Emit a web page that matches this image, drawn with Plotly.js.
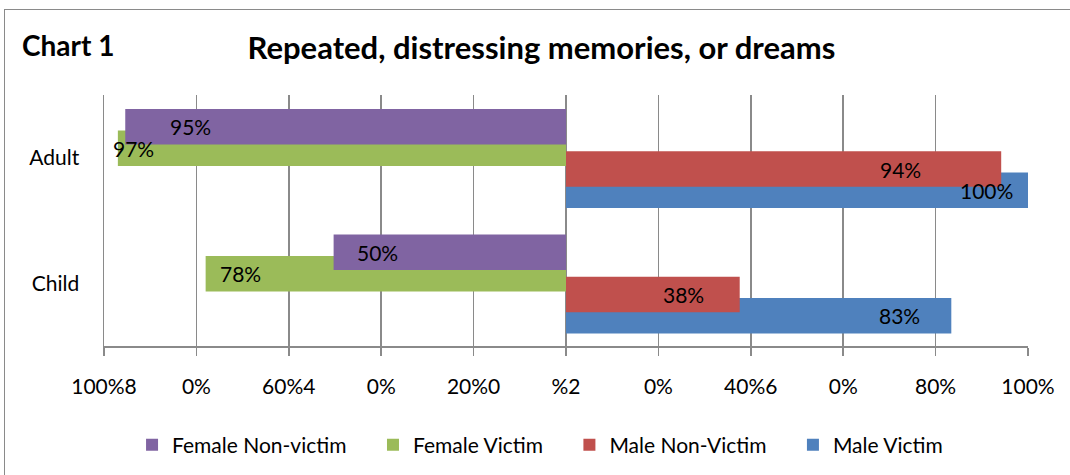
<!DOCTYPE html>
<html>
<head>
<meta charset="utf-8">
<script src="https://cdn.plot.ly/plotly-3.0.1.min.js"></script>
<style>
html, body { margin: 0; padding: 0; background: #ffffff; overflow: hidden; }
#chart { width: 1070px; height: 475px; }
#frame { position: absolute; left: 4px; top: 9px; width: 1200px; height: 600px; border: 1.5px solid #8a8a8a; pointer-events: none; }
</style>
</head>
<body>
<div id="chart"></div>
<div id="frame"></div>
<script>
// ---- data ----
const categories = ['Adult', 'Child'];
const femaleNonVictim = [95.4, 50.3];
const femaleVictim = [97, 78];
const maleNonVictim = [94.2, 37.6];
const maleVictim = [100, 83.4];
const xTickValues = [-100, -80, -60, -40, -20, 0, 20, 40, 60, 80, 100];
const xTickLabels = ['100%8', '0%', '60%4', '0%', '20%0', '%2', '0%', '40%6', '0%', '80%', '100%'];
const seriesNames = ['Female Non-victim', 'Female Victim', 'Male Non-Victim', 'Male Victim'];

// ---- style ----
const FONT = 'Lato, "Open Sans", sans-serif';
const GRID = '#8a8a8a';
const barWidth = 0.283;
const NB = '\u00a0';
const pad = NB.repeat(4);
const series = [
  { name: seriesNames[0], values: femaleNonVictim, sign: -1, color: '#8064A2', offset: 0.105, rank: 1, draw: 2, inset: [65, 44] },
  { name: seriesNames[1], values: femaleVictim, sign: -1, color: '#9BBB59', offset: -0.065, rank: 2, draw: 1, inset: [16, 35] },
  { name: seriesNames[2], values: maleNonVictim, sign: 1, color: '#C0504D', offset: -0.232, rank: 3, draw: 4, inset: [101, 56] },
  { name: seriesNames[3], values: maleVictim, sign: 1, color: '#4F81BD', offset: -0.400, rank: 4, draw: 3, inset: [42, 52] }
];
const categoryOrder = categories.slice().reverse();

const traces = series.slice().sort((a, b) => a.draw - b.draw).map(s => ({
  type: 'bar',
  orientation: 'h',
  name: s.name + pad,
  y: categories,
  x: s.values.map(v => s.sign * v),
  width: barWidth,
  offset: s.offset,
  marker: { color: s.color, line: { width: 0 } },
  legendrank: s.rank,
  hoverinfo: 'skip'
}));

const annotations = [];
series.forEach(s => {
  s.values.forEach((v, i) => {
    annotations.push({
      xref: 'x', yref: 'y',
      x: s.sign * v,
      y: categoryOrder.indexOf(categories[i]) + s.offset + barWidth / 2,
      xshift: -s.sign * s.inset[i],
      text: Math.round(v) + '%',
      showarrow: false,
      xanchor: 'center', yanchor: 'middle',
      font: { family: FONT, size: 21, color: '#000000' }
    });
  });
});
annotations.push({
  xref: 'paper', yref: 'paper',
  x: -0.0909, y: 1.199,
  xanchor: 'left', yanchor: 'middle',
  text: '<b>Chart 1</b>',
  showarrow: false,
  font: { family: FONT, size: 28, color: '#000000' }
});

const layout = {
  width: 1070, height: 475,
  paper_bgcolor: '#ffffff', plot_bgcolor: '#ffffff',
  margin: { l: 104, r: 42, t: 95, b: 129 },
  barmode: 'overlay',
  title: {
    text: '<b>Repeated, distressing memories, or dreams</b>',
    font: { family: FONT, size: 31, color: '#000000' },
    xref: 'container', x: 0.506, xanchor: 'center',
    yref: 'container', y: 0.899, yanchor: 'middle'
  },
  showlegend: true,
  legend: {
    orientation: 'h',
    xref: 'container', x: 0.515, xanchor: 'center',
    yref: 'container', y: 0.063, yanchor: 'middle',
    font: { family: FONT, size: 21, color: '#000000' },
    traceorder: 'normal'
  },
  xaxis: {
    range: [-100, 100],
    tickmode: 'array', tickvals: xTickValues, ticktext: xTickLabels,
    showgrid: true, gridcolor: GRID, gridwidth: 1.5,
    zeroline: false,
    showline: true, linecolor: GRID, linewidth: 1.5,
    ticks: 'outside', ticklen: 8, tickcolor: GRID, tickwidth: 1.5,
    ticklabelstandoff: 13,
    tickfont: { family: FONT, size: 21, color: '#000000' },
    fixedrange: true
  },
  yaxis: {
    type: 'category', categoryorder: 'array', categoryarray: categoryOrder,
    range: [-0.5, 1.5],
    showgrid: false, zeroline: false,
    showline: true, linecolor: GRID, linewidth: 1.5,
    ticks: '', ticklabelstandoff: 19,
    tickfont: { family: FONT, size: 21, color: '#000000' },
    fixedrange: true
  },
  yaxis2: {
    overlaying: 'y', anchor: 'free', position: 0.5, side: 'left',
    range: [-0.5, 1.5],
    tickmode: 'array', tickvals: [-0.5, 0.5, 1.5],
    ticks: 'outside', ticklen: 7, tickcolor: GRID, tickwidth: 1.5,
    showticklabels: false,
    showline: true, linecolor: GRID, linewidth: 1.5,
    showgrid: false, zeroline: false,
    fixedrange: true
  },
  annotations: annotations
};

Plotly.newPlot('chart', traces, layout, { displayModeBar: false, staticPlot: true });
</script>
</body>
</html>
